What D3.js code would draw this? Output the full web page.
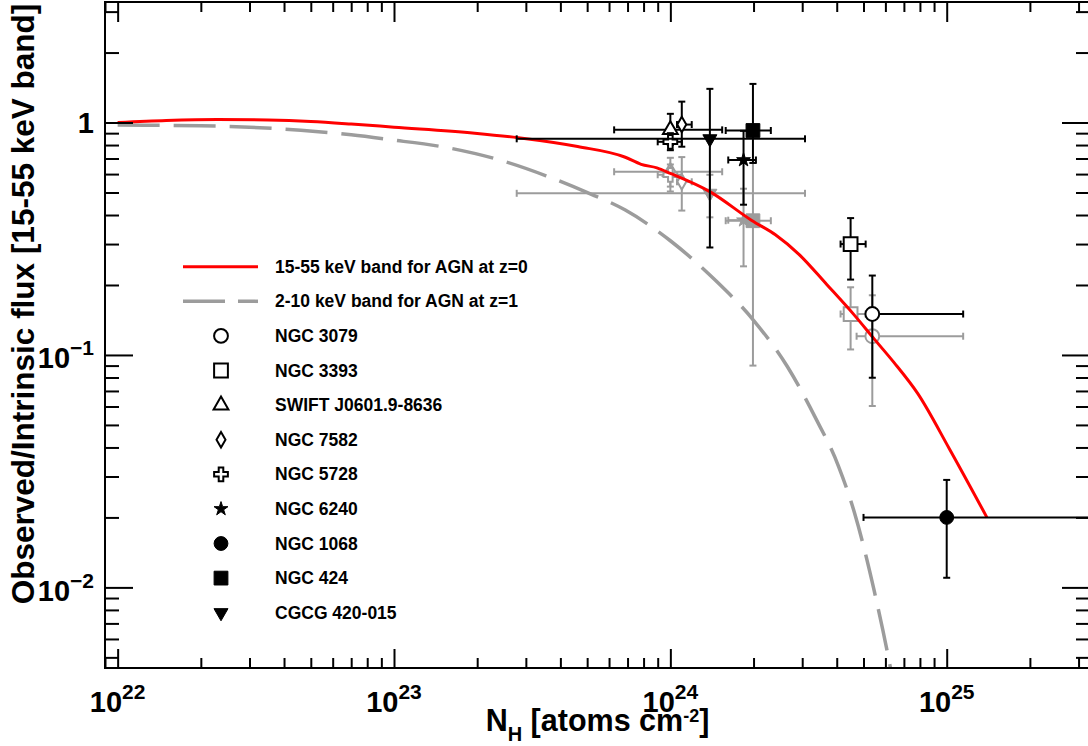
<!DOCTYPE html>
<html><head><meta charset="utf-8">
<script src="https://cdn.jsdelivr.net/npm/d3@7"></script>
<style>
body{margin:0;background:#fff}
svg{display:block}
text{font-family:"Liberation Sans",Arial,Helvetica,sans-serif;font-weight:bold;fill:#000}
</style>
</head><body>
<svg id="c" width="1088" height="746"></svg>
<script>
// ---------------- data ----------------
const sources = ["NGC 3079","NGC 3393","SWIFT J0601.9-8636","NGC 7582","NGC 5728","NGC 6240","NGC 1068","NGC 424","CGCG 420-015"];
const markerShapes = ["circle","square","triangle","diamond","cross","star","circle","square","triangleDown"];
const markerFilled = [false,false,false,false,false,true,true,true,true];

// column density and its errors
const nh    = [5.38e24, 4.49e24, 1.00e24, 1.10e24, 1.00e24, 1.84e24, 1.00e25, 1.99e24, 1.39e24];
const nhLo  = [5.38e24, 4.13e24, 6.26e23, 1.057e24, 9.0e23, 1.62e24, 5.0e24, 1.586e24, 2.78e23];
const nhHi  = [1.147e25, 5.09e24, 1.54e24, 1.195e24, 1.1e24, 2.04e24, 1e26, 2.31e24, 3.07e24];

// observed/intrinsic, 15-55 keV (black)
const hardRatio = [0.150, 0.300, 0.93, 0.98, 0.826, 0.69, 0.020, 0.924, 0.851];
const hardLo    = [0.0798, 0.211, 0.80, 0.787, 0.76, 0.443, 0.011, 0.67, 0.29];
const hardHi    = [0.2196, 0.388, 1.09, 1.23, 0.90, 0.921, 0.029, 1.466, 1.396];

// observed/intrinsic, 2-10 keV at z=1 (grey)
const softRatio = [0.1204, 0.150, 0.614, 0.556, 0.596, 0.38, null, 0.378, 0.496];
const softLo    = [0.0603, 0.1056, 0.505, 0.418, 0.53, 0.2406, null, 0.090, 0.391];
const softHi    = [0.1806, 0.1955, 0.705, 0.71, 0.66, 0.519, null, 0.67, 0.596];
const softNhLo  = [4.72e24, 4.13e24, 6.26e23, 1.057e24, 9.0e23, 1.62e24, null, 1.586e24, 2.78e23];
const softNhHi  = [1.147e25, 5.09e24, 1.54e24, 1.195e24, 1.1e24, 2.04e24, null, 2.31e24, 3.07e24];

// model curves
const curveHardNH  = [1e22, 1.5e22, 2.3e22, 3.5e22, 5e22, 7e22, 1e23, 1.96e23, 2.82e23, 4.62e23, 6.87e23, 7.84e23, 8.94e23, 1.0e24, 1.394e24, 1.97e24, 2.4e24, 2.92e24, 3.68e24, 4.64e24, 5.47e24, 6.44e24, 7.85e24, 1.022e25, 1.398e25];
const curveHardVal = [1.0, 1.02, 1.03, 1.025, 1.01, 0.985, 0.955, 0.90, 0.86, 0.788, 0.709, 0.661, 0.638, 0.604, 0.503, 0.379, 0.329, 0.271, 0.201, 0.148, 0.117, 0.0929, 0.0683, 0.0395, 0.020];

const curveSoftNH  = [1e22, 2e22, 3e22, 4.6e22, 7e22, 9.5e22, 1.61e23, 2.39e23, 3.55e23, 4.94e23, 6.87e23, 1.0e24, 1.465e24, 2.0e24, 2.65e24, 3.33e24, 4.06e24, 4.64e24, 5.47e24, 6.24e24, 6.6e24];
const curveSoftVal = [0.975, 0.968, 0.955, 0.926, 0.885, 0.846, 0.774, 0.692, 0.590, 0.503, 0.42, 0.31, 0.208, 0.141, 0.0892, 0.0544, 0.0332, 0.0209, 0.00963, 0.00459, 0.0032];

const curveLabels = ["15-55 keV band for AGN at z=0", "2-10 keV band for AGN at z=1"];

const xMajorTicks = [1e22, 1e23, 1e24, 1e25];
const xTickExps   = ["22", "23", "24", "25"];
const yMajorTicks = [1, 0.1, 0.01];
const yTickBase   = ["1", "10", "10"];
const yTickExps   = ["", "\u22121", "\u22122"];

// ---------------- layout ----------------
const L = 105, R = 1090, T = 2, B = 668;
const GREY = "#9c9c9c";
const svg = d3.select("#c");

const x = d3.scaleLog().domain([9e21, 3.3e25]).range([L, R]);
const y = d3.scaleLog().domain([0.0045, 3.3]).range([B, T]);

svg.append("defs").append("clipPath").attr("id", "plotclip")
  .append("rect").attr("x", L).attr("y", T).attr("width", R - L).attr("height", B - T);

const plot = svg.append("g").attr("clip-path", "url(#plotclip)");

function minorTicks(scale, lo, hi) {
  const out = [];
  for (let e = lo; e <= hi; e++) for (let m = 2; m <= 9; m++) {
    const v = m * Math.pow(10, e);
    const d = scale.domain();
    if (v >= d[0] * 0.999 && v <= d[1] * 1.001) out.push(v);
  }
  return out;
}
const xMinor = minorTicks(x, 21, 25);
const yMinor = minorTicks(y, -3, 0);

// ---------------- curves ----------------
const line = d3.line().x(d => x(d[0])).y(d => y(d[1])).curve(d3.curveMonotoneX);
plot.append("path")
  .attr("d", line(curveSoftNH.map((n, i) => [n, curveSoftVal[i]])))
  .attr("fill", "none").attr("stroke", GREY).attr("stroke-width", 3.5)
  .attr("stroke-dasharray", "42,14");

// ---------------- symbols ----------------
function symbolPath(shape) {
  switch (shape) {
    case "circle": return d3.symbol(d3.symbolCircle, 150)();
    case "square": return d3.symbol(d3.symbolSquare, 190)();
    case "triangle": return d3.symbol(d3.symbolTriangle, 95)();
    case "triangleDown": return d3.symbol(d3.symbolTriangle, 85)();
    case "diamond": return d3.symbol(d3.symbolDiamond, 70)();
    case "cross": return d3.symbol(d3.symbolCross, 105)();
    case "star": return d3.symbol(d3.symbolStar, 60)();
  }
}
function drawSymbol(g, cx, cy, shape, filled, color) {
  const rot = shape === "triangleDown" ? " rotate(180)" : "";
  g.append("path").attr("d", symbolPath(shape))
    .attr("transform", `translate(${cx},${cy})${rot}`)
    .attr("fill", filled ? color : "#fff")
    .attr("stroke", color)
    .attr("stroke-width", filled ? 1 : 2);
}
function drawPoint(g, xv, xlo, xhi, yv, ylo, yhi, shape, filled, color) {
  const cx = x(xv), cy = y(yv), cap = 3.5;
  const eg = g.append("g").attr("stroke", color).attr("stroke-width", 2).attr("fill", "none");
  if (xlo < xv) {
    eg.append("line").attr("x1", x(xlo)).attr("x2", cx).attr("y1", cy).attr("y2", cy);
    eg.append("line").attr("x1", x(xlo)).attr("x2", x(xlo)).attr("y1", cy - cap).attr("y2", cy + cap);
  }
  if (xhi > xv) {
    eg.append("line").attr("x1", cx).attr("x2", x(xhi)).attr("y1", cy).attr("y2", cy);
    eg.append("line").attr("x1", x(xhi)).attr("x2", x(xhi)).attr("y1", cy - cap).attr("y2", cy + cap);
  }
  eg.append("line").attr("x1", cx).attr("x2", cx).attr("y1", y(yhi)).attr("y2", y(ylo));
  eg.append("line").attr("x1", cx - cap).attr("x2", cx + cap).attr("y1", y(yhi)).attr("y2", y(yhi));
  eg.append("line").attr("x1", cx - cap).attr("x2", cx + cap).attr("y1", y(ylo)).attr("y2", y(ylo));
  drawSymbol(g, cx, cy, shape, filled, color);
}

// grey points (2-10 keV, z=1)
const greyG = plot.append("g");
sources.forEach((s, i) => {
  if (softRatio[i] == null) return;
  drawPoint(greyG, nh[i], softNhLo[i], softNhHi[i], softRatio[i], softLo[i], softHi[i], markerShapes[i], markerFilled[i], GREY);
});

// red curve
plot.append("path")
  .attr("d", line(curveHardNH.map((n, i) => [n, curveHardVal[i]])))
  .attr("fill", "none").attr("stroke", "#ff0000").attr("stroke-width", 3);

// black points (15-55 keV)
const blackG = plot.append("g");
sources.forEach((s, i) => {
  drawPoint(blackG, nh[i], nhLo[i], nhHi[i], hardRatio[i], hardLo[i], hardHi[i], markerShapes[i], markerFilled[i], "#000");
});

// ---------------- legend ----------------
const lg = svg.append("g");
const rowY = i => 266.7 + i * 34.6;
lg.append("line").attr("x1", 183).attr("x2", 258).attr("y1", rowY(0)).attr("y2", rowY(0))
  .attr("stroke", "#ff0000").attr("stroke-width", 3);
lg.append("line").attr("x1", 183).attr("x2", 258).attr("y1", rowY(1)).attr("y2", rowY(1))
  .attr("stroke", GREY).attr("stroke-width", 3.5).attr("stroke-dasharray", "42,13");
curveLabels.forEach((t, i) => {
  lg.append("text").attr("x", 275).attr("y", rowY(i) + 6).attr("font-size", 17.5).text(t);
});
sources.forEach((s, i) => {
  drawSymbol(lg, 221, rowY(i + 2), markerShapes[i], markerFilled[i], "#000");
  lg.append("text").attr("x", 275).attr("y", rowY(i + 2) + 6).attr("font-size", 17.5).text(s);
});

// ---------------- axes ----------------
function styleAxis(g) {
  g.select(".domain").remove();
  g.selectAll(".tick line").attr("stroke", "#000").attr("stroke-width", 2);
  g.selectAll(".tick text").remove();
}
svg.append("g").attr("transform", `translate(0,${B})`)
  .call(d3.axisBottom(x).tickValues(xMajorTicks).tickSize(-19).tickFormat("")).call(styleAxis);
svg.append("g").attr("transform", `translate(0,${B})`)
  .call(d3.axisBottom(x).tickValues(xMinor).tickSize(-10).tickFormat("")).call(styleAxis);
svg.append("g").attr("transform", `translate(0,${T})`)
  .call(d3.axisTop(x).tickValues(xMajorTicks).tickSize(-20).tickFormat("")).call(styleAxis);
svg.append("g").attr("transform", `translate(0,${T})`)
  .call(d3.axisTop(x).tickValues(xMinor).tickSize(-10).tickFormat("")).call(styleAxis);
svg.append("g").attr("transform", `translate(${L},0)`)
  .call(d3.axisLeft(y).tickValues(yMajorTicks).tickSize(-28).tickFormat("")).call(styleAxis);
svg.append("g").attr("transform", `translate(${L},0)`)
  .call(d3.axisLeft(y).tickValues(yMinor).tickSize(-14).tickFormat("")).call(styleAxis);
svg.append("g").attr("transform", `translate(${R},0)`)
  .call(d3.axisRight(y).tickValues(yMajorTicks).tickSize(-28).tickFormat("")).call(styleAxis);
svg.append("g").attr("transform", `translate(${R},0)`)
  .call(d3.axisRight(y).tickValues(yMinor).tickSize(-14).tickFormat("")).call(styleAxis);

svg.append("rect").attr("x", L).attr("y", T).attr("width", R - L).attr("height", B - T)
  .attr("fill", "none").attr("stroke", "#000").attr("stroke-width", 2);

// tick labels
xMajorTicks.forEach((v, i) => {
  const t = svg.append("text").attr("x", x(v)).attr("y", 711.7).attr("text-anchor", "middle").attr("font-size", 29);
  t.append("tspan").text("10");
  t.append("tspan").attr("dy", -13).attr("font-size", 21).text(xTickExps[i]);
});
yMajorTicks.forEach((v, i) => {
  const hasExp = yTickExps[i] !== "";
  const t = svg.append("text").attr("x", 94).attr("y", y(v) + (hasExp ? 13.4 : 10.5))
    .attr("text-anchor", "end").attr("font-size", 29);
  t.append("tspan").text(yTickBase[i]);
  if (hasExp) t.append("tspan").attr("dy", -13).attr("font-size", 21).text(yTickExps[i]);
});

// axis titles
const xt = svg.append("text").attr("x", (L + R) / 2).attr("y", 730.7).attr("text-anchor", "middle").attr("font-size", 30.5);
xt.append("tspan").text("N");
xt.append("tspan").attr("dy", 10).attr("font-size", 20).text("H");
xt.append("tspan").attr("dy", -10).text(" [atoms cm");
xt.append("tspan").attr("dy", -9).attr("font-size", 18).text("-2");
xt.append("tspan").attr("dy", 9).text("]");

svg.append("text").attr("transform", "translate(34,304) rotate(-90)")
  .attr("text-anchor", "middle").attr("font-size", 31.5)
  .text("Observed/Intrinsic flux [15-55 keV band]");
</script>
</body></html>
